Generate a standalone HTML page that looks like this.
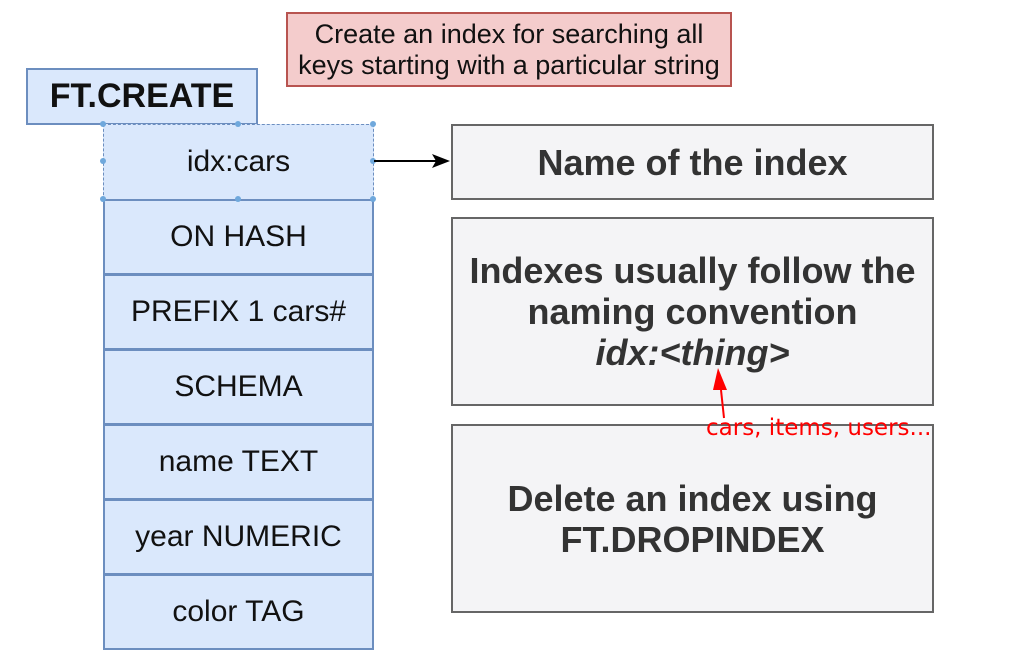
<!DOCTYPE html>
<html><head><meta charset="utf-8"><style>
body{margin:0;width:1025px;height:660px;background:#fff;position:relative;overflow:hidden;font-family:"Liberation Sans",sans-serif}
.a{position:absolute;box-sizing:border-box;display:flex;align-items:center;justify-content:center;text-align:center}
.row{left:103px;width:271px;height:76px;background:#dae8fc;border:2px solid #6c8ebf;font-size:30px;color:#111}
.g{left:451px;width:483px;background:#f4f4f6;border:2px solid #666;font-size:36px;font-weight:bold;color:#333;line-height:41px}
</style></head><body>
<div class="a" style="left:286px;top:12px;width:446px;height:75px;background:#f4cccc;border:2px solid #b85450;font-size:27px;line-height:31px;color:#111"><div>Create an index for searching all<br>keys starting with a particular string</div></div>
<div class="a" style="left:26px;top:68px;width:232px;height:57px;background:#dae8fc;border:2px solid #6c8ebf;font-size:34px;font-weight:bold;color:#111">FT.CREATE</div>
<div class="a row" style="top:124px;border:1px dashed #6c8ebf">idx:cars</div>
<div class="a row" style="top:199px">ON HASH</div>
<div class="a row" style="top:274px">PREFIX 1 cars#</div>
<div class="a row" style="top:349px">SCHEMA</div>
<div class="a row" style="top:424px">name TEXT</div>
<div class="a row" style="top:499px">year NUMERIC</div>
<div class="a row" style="top:574px">color TAG</div>
<div class="a g" style="top:124px;height:76px">Name of the index</div>
<div class="a g" style="top:217px;height:189px"><div>Indexes usually follow the<br>naming convention<br><i>idx:&lt;thing&gt;</i></div></div>
<div class="a g" style="top:424px;height:189px"><div>Delete an index using<br>FT.DROPINDEX</div></div>
<svg style="position:absolute;left:0;top:0" width="1025" height="660">
<g fill="#6fa8dc"><circle cx="103" cy="124" r="3"/><circle cx="238" cy="124" r="3"/><circle cx="373" cy="124" r="3"/><circle cx="103" cy="161" r="3"/><circle cx="373" cy="161" r="3"/><circle cx="103" cy="199" r="3"/><circle cx="238" cy="199" r="3"/><circle cx="373" cy="199" r="3"/></g>
<line x1="374" y1="161" x2="438" y2="161" stroke="#000" stroke-width="2"/>
<polygon points="450,161 432,154 436,161 432,168" fill="#000"/>
<line x1="724" y1="418" x2="721" y2="390" stroke="red" stroke-width="2"/>
<polygon points="718,368 713,390 727,390" fill="red"/>
<text x="706" y="435" fill="red" font-family="DejaVu Sans,sans-serif" font-size="23">cars, items, users...</text>
</svg>
</body></html>
